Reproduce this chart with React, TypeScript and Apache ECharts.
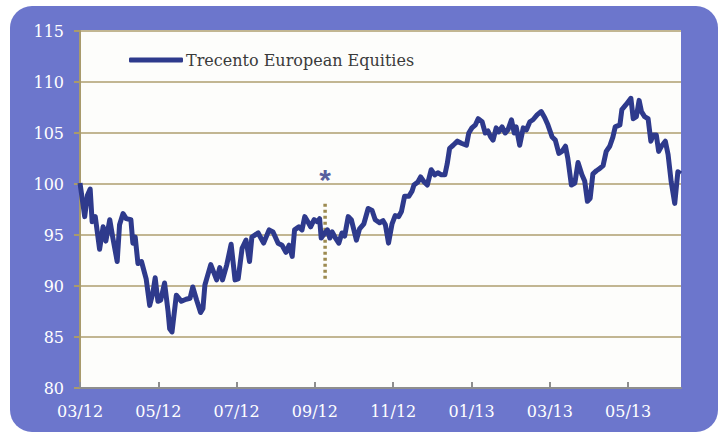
import React, { useEffect, useRef } from "react";
import * as echarts from "echarts";

// x: months elapsed since start of 03/2012, y: index level
const months = [
  0, 0.12, 0.19, 0.26, 0.31, 0.39, 0.5, 0.59, 0.66, 0.76, 0.84, 0.95, 1.01, 1.1, 1.18, 1.3, 1.35, 1.41, 1.48, 1.57,
  1.69, 1.78, 1.86, 1.92, 1.99, 2.06, 2.16, 2.25, 2.29, 2.35, 2.46, 2.59, 2.71, 2.81, 2.88, 2.98, 3.08, 3.14, 3.19, 3.34,
  3.49, 3.57, 3.64, 3.75, 3.86, 3.96, 4.04, 4.14, 4.24, 4.33, 4.39, 4.55, 4.69, 4.83, 4.93, 5.06, 5.16, 5.26, 5.34, 5.42,
  5.48, 5.59, 5.67, 5.74, 5.82, 5.89, 5.98, 6.06, 6.12, 6.16, 6.25, 6.32, 6.38, 6.44, 6.51, 6.61, 6.69, 6.76, 6.85, 6.93,
  7.06, 7.14, 7.25, 7.36, 7.46, 7.54, 7.65, 7.74, 7.8, 7.88, 7.97, 8.05, 8.14, 8.21, 8.29, 8.4, 8.48, 8.53, 8.63, 8.7,
  8.79, 8.87, 8.97, 9.06, 9.14, 9.23, 9.32, 9.38, 9.44, 9.53, 9.64, 9.74, 9.87, 9.93, 10.01, 10.1, 10.17, 10.27, 10.35, 10.42,
  10.49, 10.55, 10.63, 10.69, 10.78, 10.86, 10.93, 11.02, 11.09, 11.14, 11.23, 11.32, 11.4, 11.49, 11.57, 11.68, 11.78, 11.87, 11.95, 12.06,
  12.14, 12.23, 12.31, 12.4, 12.46, 12.55, 12.64, 12.72, 12.82, 12.89, 12.96, 13.03, 13.1, 13.19, 13.27, 13.36, 13.44, 13.53, 13.61, 13.67,
  13.79, 13.84, 13.95, 14.07, 14.13, 14.21, 14.28, 14.34, 14.42, 14.51, 14.58, 14.64, 14.72, 14.78, 14.85, 14.95, 15.02, 15.1, 15.19, 15.27,
  15.34,
];
const values = [
  100.1, 96.8, 98.9, 99.5, 96.3, 96.8, 93.6, 95.8, 94.4, 96.5, 94.7, 92.4, 96.0, 97.1, 96.6, 96.5, 94.2, 94.8, 92.2, 92.4,
  90.7, 88.1, 89.3, 90.8, 88.5, 88.6, 90.3, 87.5, 85.8, 85.5, 89.1, 88.5, 88.7, 88.8, 89.9, 88.6, 87.4, 87.8, 90.1, 92.1,
  90.6, 91.8, 90.6, 92.1, 94.1, 90.6, 90.7, 93.7, 94.5, 92.4, 94.8, 95.2, 94.2, 95.5, 95.3, 94.2, 94.0, 93.3, 94.0, 92.9,
  95.5, 95.8, 95.5, 96.8, 96.3, 95.8, 96.5, 96.3, 96.6, 94.7, 95.2, 95.5, 94.7, 95.3, 94.8, 94.2, 95.2, 94.9, 96.8, 96.5,
  94.5, 95.6, 96.1, 97.6, 97.4, 96.5, 96.2, 96.4, 96.0, 94.2, 96.1, 96.9, 96.8, 97.3, 98.8, 98.8, 99.3, 99.9, 100.2, 100.7,
  100.2, 99.9, 101.4, 100.9, 101.1, 100.9, 100.9, 102.0, 103.5, 103.8, 104.2, 104.0, 103.8, 105.0, 105.5, 105.8, 106.4, 106.1, 105.0, 105.2,
  104.6, 104.3, 105.5, 105.1, 105.6, 105.0, 105.3, 106.3, 105.0, 105.6, 103.8, 105.5, 105.3, 106.1, 106.3, 106.8, 107.1, 106.5, 105.8, 104.6,
  104.3, 103.0, 103.2, 103.7, 102.5, 99.9, 100.1, 102.1, 100.9, 100.3, 98.3, 98.6, 101.0, 101.3, 101.5, 101.8, 103.2, 103.7, 104.6, 105.6,
  105.8, 107.3, 107.8, 108.4, 106.4, 106.6, 108.2, 107.1, 106.6, 106.4, 104.2, 104.8, 104.8, 103.2, 103.7, 104.2, 102.9, 100.2, 98.1, 101.2,
  101.0,
];

const tickMonths = [0, 2, 4, 6, 8, 10, 12, 14];
const tickLabels = ["03/12", "05/12", "07/12", "09/12", "11/12", "01/13", "03/13", "05/13"];
const xMax = 15.35;

const seriesName = "Trecento European Equities";
const markerMonth = 6.26;
const markerRange = [90.7, 98.1];
const asteriskValue = 100.4;

const FONT = "DejaVu Serif";

export default function App() {
  const ref = useRef<HTMLDivElement>(null);
  useEffect(() => {
    if (!ref.current) return;
    const chart = echarts.init(ref.current, null, { renderer: "svg" });
    const lineData = months.map((m, i) => [m, values[i]]);
    chart.setOption({
      animation: false,
      backgroundColor: "#ffffff",
      graphic: [
        {
          type: "rect",
          z: -10,
          shape: { x: 10, y: 6, width: 708, height: 426, r: 22 },
          style: { fill: "#6c76cc" },
        },
      ],
      grid: {
        left: 80,
        right: 37,
        top: 31,
        bottom: 44,
        show: true,
        backgroundColor: "#fdfdfb",
        borderWidth: 0,
      },
      legend: {
        left: 124,
        top: 47,
        icon: "roundRect",
        itemWidth: 54,
        itemHeight: 5,
        itemGap: 4,
        data: [seriesName],
        textStyle: { fontFamily: FONT, fontSize: 16, color: "#3a3a3a", padding: [0, 0, 0, -2] },
      },
      xAxis: {
        type: "value",
        min: 0,
        max: xMax,
        interval: 2,
        axisLine: { show: true, lineStyle: { color: "#8e8e8e", width: 2 } },
        axisTick: {
          show: true,
          inside: true,
          length: 6,
          customValues: tickMonths,
          lineStyle: { color: "#8e8e8e", width: 2 },
        },
        axisLabel: {
          customValues: tickMonths,
          margin: 15,
          color: "#ffffff",
          fontFamily: FONT,
          fontSize: 16,
          formatter: (v: number) => {
            const i = tickMonths.indexOf(v);
            return i >= 0 ? tickLabels[i] : "";
          },
        },
        splitLine: { show: false },
      },
      yAxis: {
        type: "value",
        min: 80,
        max: 115,
        interval: 5,
        axisLine: { show: true, lineStyle: { color: "#a89a6c", width: 2 } },
        axisTick: { show: true, length: 6, lineStyle: { color: "#a89a6c", width: 2 } },
        axisLabel: { margin: 16, color: "#ffffff", fontFamily: FONT, fontSize: 16 },
        splitLine: { show: true, lineStyle: { color: "#c2b692", width: 2 } },
      },
      series: [
        {
          name: seriesName,
          type: "line",
          data: lineData,
          symbol: "none",
          color: "#2e3a8c",
          lineStyle: { color: "#2e3a8c", width: 5, join: "round" },
          z: 5,
        },
        {
          name: "marker",
          type: "line",
          data: [
            [markerMonth, markerRange[0]],
            [markerMonth, markerRange[1]],
          ],
          symbol: "none",
          lineStyle: { color: "#9c8a50", width: 3.5, type: [3, 3] },
          z: 4,
        },
        {
          name: "asterisk",
          type: "scatter",
          data: [[markerMonth, asteriskValue]],
          symbolSize: 1,
          itemStyle: { color: "transparent" },
          label: {
            show: true,
            position: "inside",
            formatter: "*",
            color: "#2a3585",
            fontFamily: "Liberation Sans",
            fontWeight: "bold",
            fontSize: 30,
          },
          z: 6,
        },
      ],
    });
    return () => chart.dispose();
  }, []);
  return (
    <div
      ref={ref}
      style={{ position: "fixed", left: 0, top: 0, width: 718, height: 432 }}
    />
  );
}
